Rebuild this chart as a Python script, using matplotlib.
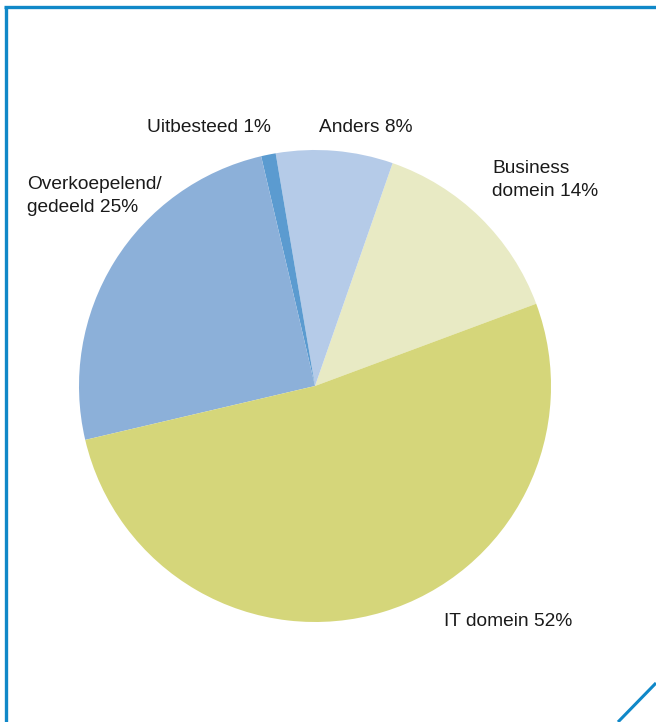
import matplotlib
matplotlib.use("Agg")
import matplotlib.pyplot as plt
from matplotlib.lines import Line2D

# Slice data, listed counter-clockwise from the Business/IT boundary
labels = ["Business\ndomein 14%", "Anders 8%", "Uitbesteed 1%",
          "Overkoepelend/\ngedeeld 25%", "IT domein 52%"]
values = [14, 8, 1, 25, 52]
colors = ["#E8EAC4", "#B5CBE8", "#5B9BD0", "#8CB0D9", "#D5D67A"]

W, H = 656, 722
fig = plt.figure(figsize=(W / 100, H / 100), dpi=100)
ax = fig.add_axes([0, 0, 1, 1])

cx, cy, r = 315, H - 386, 236
ax.pie(values, colors=colors, startangle=20.4, counterclock=True,
       center=(cx, cy), radius=r, frame=True,
       wedgeprops=dict(linewidth=0))
ax.set_xlim(0, W)
ax.set_ylim(0, H)
ax.set_aspect("equal")
ax.axis("off")

font = dict(family=["Liberation Sans", "DejaVu Sans"], fontsize=13.8,
            color="#1a1a1a", linespacing=1.42)
pos = [(492, 180, "left"), (366, 127, "center"), (209, 127, "center"),
       (27, 196, "left"), (444, 621, "left")]
for lab, (x, y, ha) in zip(labels, pos):
    ax.text(x, H - y, lab, ha=ha, va="center", **font)

# Frame lines
blue = "#1088C8"
ax.add_line(Line2D([5.5, 5.5], [0, H - 6.5], color=blue, lw=2.4,
                   solid_capstyle="butt"))
ax.add_line(Line2D([4.3, W], [H - 6.5, H - 6.5], color=blue, lw=2.4,
                   solid_capstyle="butt"))
ax.add_line(Line2D([618, W], [0, H - 683], color=blue, lw=2.2,
                   solid_capstyle="butt"))

fig.savefig("out.png", dpi=100)
